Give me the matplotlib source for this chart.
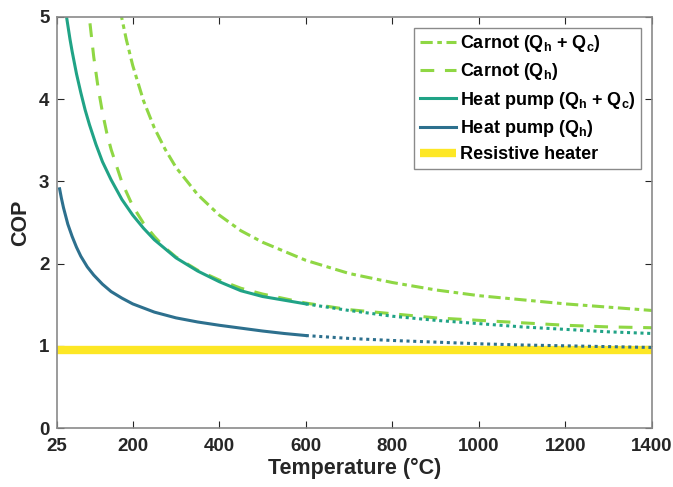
"""
COP of heat pumps versus Carnot limits and a resistive heater
"""
import matplotlib
matplotlib.use("Agg")
import matplotlib.pyplot as plt

plt.rcParams["font.family"] = ["Liberation Sans", "DejaVu Sans"]
plt.rcParams["font.weight"] = "bold"
plt.rcParams["mathtext.fontset"] = "custom"
plt.rcParams["mathtext.rm"] = "Liberation Sans:bold"
plt.rcParams["mathtext.it"] = "Liberation Sans:bold"
plt.rcParams["mathtext.bf"] = "Liberation Sans:bold"

# Carnot limit, heat delivered plus heat recovered
carnot_total_t = [170, 175, 185, 200, 225, 250, 275, 300, 350, 400, 450, 500,
                  600, 700, 800, 900, 1000, 1100, 1200, 1300, 1400]
carnot_total_cop = [5.11, 4.98, 4.73, 4.41, 3.98, 3.65, 3.39, 3.17, 2.84, 2.59, 2.40, 2.26,
                    2.04, 1.88, 1.77, 1.68, 1.61, 1.56, 1.51, 1.47, 1.43]

# Carnot limit, heat delivered only
carnot_heat_t = [95, 100, 110, 120, 130, 140, 150, 175, 200, 225, 250, 275, 300,
                 350, 400, 450, 500, 600, 700, 800, 900, 1000, 1100, 1200, 1300, 1400]
carnot_heat_cop = [5.26, 4.98, 4.51, 4.14, 3.84, 3.59, 3.39, 2.99, 2.70, 2.49, 2.33, 2.19, 2.08,
                   1.92, 1.80, 1.70, 1.63, 1.52, 1.44, 1.39, 1.34, 1.31, 1.28, 1.25, 1.23, 1.22]

# heat pump (Qh + Qc): solid up to 600 C, dotted beyond
hp_total_t = [42, 45, 50, 55, 60, 70, 80, 90, 100, 115, 130, 150, 175, 200, 225, 250,
              300, 350, 400, 450, 500, 550, 600]
hp_total_cop = [5.19, 5.07, 4.90, 4.73, 4.58, 4.31, 4.08, 3.87, 3.69, 3.45, 3.24, 3.02, 2.78,
                2.59, 2.43, 2.29, 2.07, 1.91, 1.78, 1.67, 1.60, 1.555, 1.51]
hp_total_ext_t = [600, 700, 800, 900, 1000, 1100, 1200, 1300, 1400]
hp_total_ext_cop = [1.51, 1.43, 1.36, 1.31, 1.27, 1.23, 1.20, 1.17, 1.15]

# heat pump (Qh): solid up to 600 C, dotted beyond
hp_heat_t = [31, 35, 40, 45, 50, 60, 70, 80, 95, 110, 130, 150, 175, 200, 250, 300,
             350, 400, 450, 500, 550, 600]
hp_heat_cop = [2.91, 2.80, 2.68, 2.58, 2.48, 2.33, 2.20, 2.09, 1.96, 1.86, 1.75, 1.66, 1.58,
               1.51, 1.41, 1.34, 1.29, 1.25, 1.215, 1.18, 1.15, 1.125]
hp_heat_ext_t = [600, 700, 800, 900, 1000, 1100, 1200, 1300, 1400]
hp_heat_ext_cop = [1.125, 1.09, 1.065, 1.045, 1.025, 1.01, 1.0, 0.99, 0.98]

resistive_t = [25, 1400]
resistive_cop = [0.95, 0.95]

x_ticks = [25, 200, 400, 600, 800, 1000, 1200, 1400]
y_ticks = [0, 1, 2, 3, 4, 5]

green = "#8fd744"
teal = "#20a386"
blue = "#2d708e"
yellow = "#fde725"

fig = plt.figure(figsize=(6.73, 4.87), dpi=100)
ax = fig.add_axes([0.0847, 0.1211, 0.8841, 0.844])

lw = 2.2
ax.plot(carnot_total_t, carnot_total_cop, color=green, lw=lw, dashes=(4, 1.5, 1.5, 1.5),
        label=r"Carnot (Q$_{\mathrm{h}}$ + Q$_{\mathrm{c}}$)")
ax.plot(carnot_heat_t, carnot_heat_cop, color=green, lw=lw, dashes=(4.5, 3.5),
        label=r"Carnot (Q$_{\mathrm{h}}$)")
ax.plot(hp_total_t, hp_total_cop, color=teal, lw=lw,
        label=r"Heat pump (Q$_{\mathrm{h}}$ + Q$_{\mathrm{c}}$)")
ax.plot(hp_heat_t, hp_heat_cop, color=blue, lw=lw, label=r"Heat pump (Q$_{\mathrm{h}}$)")
ax.plot(resistive_t, resistive_cop, color=yellow, lw=6, label="Resistive heater",
        solid_capstyle="butt")
ax.plot(hp_total_ext_t, hp_total_ext_cop, color=teal, lw=lw, dashes=(1, 1.2))
ax.plot(hp_heat_ext_t, hp_heat_ext_cop, color=blue, lw=lw, dashes=(1, 1.2))

ax.set_xlim(25, 1400)
ax.set_ylim(0, 5)
ax.set_xticks(x_ticks)
ax.set_yticks(y_ticks)
ax.tick_params(direction="in", length=5, width=0.8, top=True, right=True,
               labelsize=13.5, colors="#262626")
ax.tick_params(axis="x", pad=7.5)
ax.tick_params(axis="y", pad=5.5)
for s in ax.spines.values():
    s.set_color("#8a8a8a")
    s.set_linewidth(1.2)

ax.set_xlabel("Temperature (°C)", fontsize=15.5, fontweight="bold", color="#262626", labelpad=2)
ax.set_ylabel("COP", fontsize=15.5, fontweight="bold", color="#262626", labelpad=6)

leg = ax.legend(loc="upper right", fontsize=13, fancybox=False, framealpha=1,
                edgecolor="#8a8a8a", handlelength=2.0, handletextpad=0.25,
                labelspacing=0.4, borderaxespad=0.6, borderpad=0.3)
leg.get_frame().set_linewidth(1.0)

fig.savefig("out.png", dpi=100)
